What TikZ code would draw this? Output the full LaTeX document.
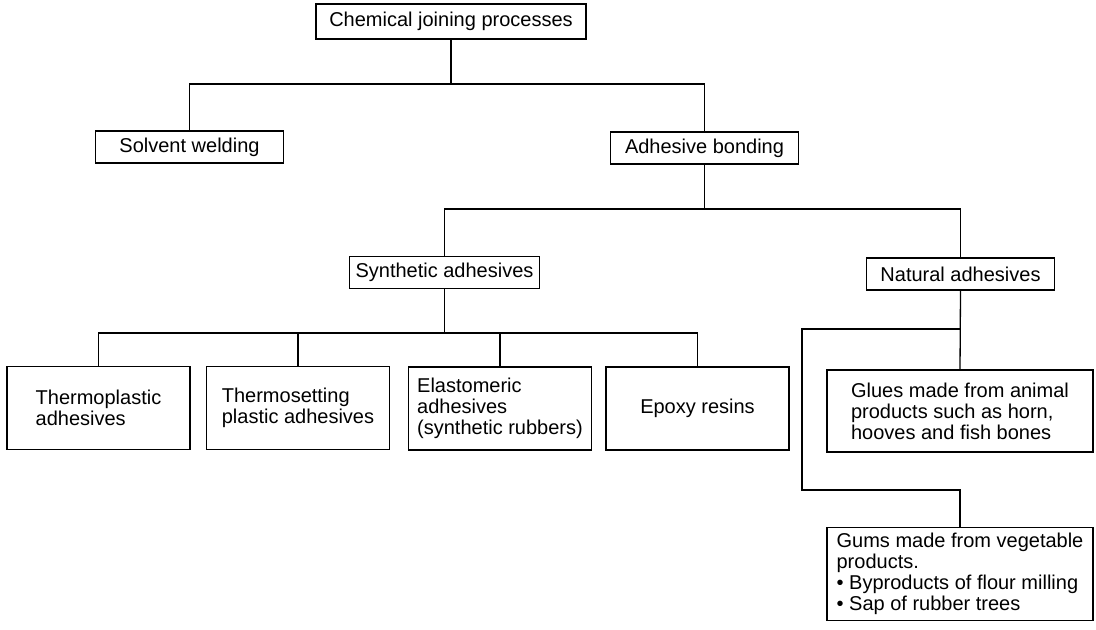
\documentclass[tikz,border=0pt]{standalone}
\usepackage{fontspec}
\setmainfont{Liberation Sans}
\usepackage{tikz}

\begin{document}
\begin{tikzpicture}[
    x=0.5pt, y=-0.5pt,
    line width=0.65pt,
    every node/.style={font=\fontsize{10}{10.5}\selectfont},
    box/.style={draw, line width=0.65pt, inner sep=3pt, align=center},
    small/.style={box, minimum width=94pt, minimum height=16pt},
    leaf/.style={box, align=left, minimum width=91.5pt, minimum height=41.5pt}
  ]
    \fill[white] (0,0) rectangle (1096,629);
    \useasboundingbox (0,0) rectangle (1096,629);

    \node[box, minimum width=135pt, minimum height=17.5pt] (chem) at (451,21.5) {Chemical joining processes};
    \node[small] (solv) at (189.5,147) {Solvent welding};
    \node[small] (adh) at (704.5,148) {Adhesive bonding};
    \node[small] (syn) at (444.5,272.5) {Synthetic adhesives};
    \node[small] (nat) at (960.5,274) {Natural adhesives};

    \node[leaf] (tp) at (98.5,408) {Thermoplastic\\adhesives};
    \node[leaf] (ts) at (298,408) {Thermosetting\\plastic adhesives};
    \node[leaf] (el) at (500,408.5) {Elastomeric\\adhesives\\(synthetic rubbers)};
    \node[leaf] (ep) at (697.5,408.5) {Epoxy resins};

    \node[leaf, minimum width=133pt, minimum height=41pt] (glue) at (960,411) {Glues made from animal\\products such as horn,\\hooves and fish bones};
    \node[leaf, minimum width=133pt, minimum height=44pt] (gum) at (960,574) {Gums made from vegetable\\products.\\• Byproducts of flour milling\\• Sap of rubber trees};

    % bus lines
    \coordinate (bus1) at (449,84);
    \coordinate (bus2) at (704,209);
    \coordinate (bus3) at (444,333);
    \coordinate (natbus) at (802,329);
    \coordinate (gumbus) at (802,490);

    \draw (chem.south) -- (chem.south |- bus1) -| (solv.north);
    \draw (chem.south |- bus1) -| (adh.north);

    \draw (adh.south) -- (adh.south |- bus2) -| (syn.north);
    \draw (adh.south |- bus2) -| (nat.north);

    \draw (syn.south) -- (syn.south |- bus3) -| (tp.north);
    \draw (syn.south |- bus3) -| (ts.north);
    \draw (syn.south |- bus3) -| (el.north);
    \draw (syn.south |- bus3) -| (ep.north);

    \draw (nat.south) -- (glue.north);
    \draw (nat.south |- natbus) -- (natbus) -- (gumbus) -| (gum.north);
  \end{tikzpicture}
\end{document}
